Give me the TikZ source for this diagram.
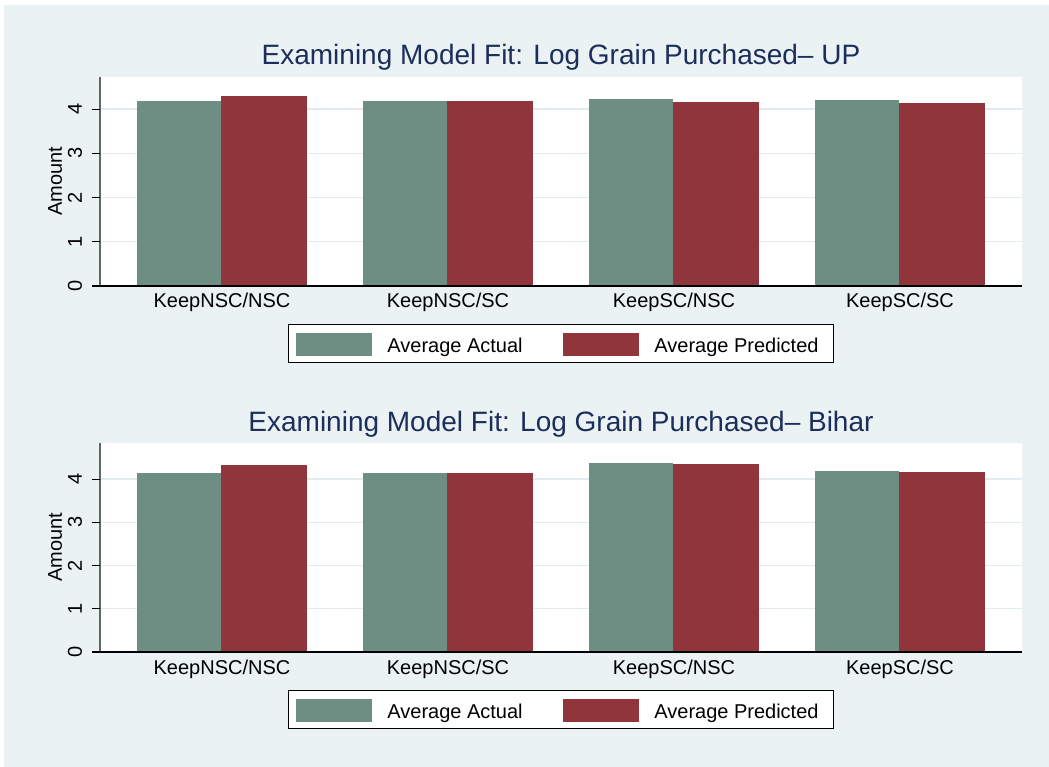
\documentclass[tikz,border=0pt]{standalone}
\usepackage{fontspec}
\setmainfont{Liberation Sans}
\usetikzlibrary{positioning}

\definecolor{bgblue}{RGB}{234,242,243}
\definecolor{gridblue}{RGB}{226,236,239}
\definecolor{actgreen}{RGB}{110,142,132}
\definecolor{predred}{RGB}{144,53,59}
\definecolor{titlenavy}{RGB}{28,46,92}
\definecolor{axisgrey}{RGB}{100,100,100}

\tikzset{
  plottitle/.style={font=\fontsize{28}{28}\selectfont, text=titlenavy, inner sep=0pt, anchor=base},
  ticklab/.style={font=\fontsize{20}{20}\selectfont, inner sep=0pt, rotate=90},
  catlab/.style={font=\fontsize{20}{20}\selectfont, inner sep=0pt, anchor=base},
  legtext/.style={font=\fontsize{20}{20}\selectfont, inner sep=0pt},
  swatch/.style={minimum width=76pt, minimum height=23pt, inner sep=0pt},
  gridline/.style={gridblue, line width=1.2pt},
}

% one bar panel: #1 id, #2 vertical shift, #3 pt per unit, #4 region, #5 group/actual/predicted
\newcommand{\fitpanel}[5]{%
  \begin{scope}[shift={(0,#2)}]
    \node[plottitle] (title#1) at (561,65) {Examining Model Fit: Log Grain Purchased-- #4};
    \fill[white] (100,77) rectangle (1022,286);
    \foreach \k in {1,...,4}
      \draw[gridline] (100,{286-\k*#3}) -- (1022,{286-\k*#3});
    \foreach \g/\a/\p in {#5} {
      \fill[actgreen] ({137+\g*226},286) rectangle ({221+\g*226},{286-\a*#3});
      \fill[predred] ({221+\g*226},286) rectangle ({307+\g*226},{286-\p*#3});
    }
    % axes and ticks
    \draw[axisgrey, line width=1.5pt] (100,77) -- (100,286);
    \draw[line width=1.3pt] (92,286) -- (1022,286);
    \foreach \k in {0,...,4} {
      \draw[line width=0.8pt] (92,{286-\k*#3}) -- (100,{286-\k*#3});
      \node[ticklab] (y#1\k) at (75,{286-\k*#3}) {\k};
    }
    \node[ticklab] (ylab#1) at (55,181.5) {Amount};
    \foreach \g/\c in {0/KeepNSC\slash NSC, 1/KeepNSC\slash SC, 2/KeepSC\slash NSC, 3/KeepSC\slash SC}
      \node[catlab] (cat#1\g) at ({222+\g*226},308) {\c};
    % legend
    \draw[fill=white, line width=0.8pt] (288,324) rectangle (833,362);
    \node[swatch, fill=actgreen] (swa#1) at (334,344.5) {};
    \node[swatch, fill=predred] (swp#1) at (601,344.5) {};
    \node[legtext, right=15pt of swa#1.east, anchor=base west, yshift=-7.5pt] (lega#1) {Average Actual};
    \node[legtext, right=15pt of swp#1.east, anchor=base west, yshift=-7.5pt] (legp#1) {Average Predicted};
  \end{scope}
}

\begin{document}
\begin{tikzpicture}[x=1pt, y=-1pt]
  \useasboundingbox (0,0) rectangle (1049,767);
  \fill[white] (0,0) rectangle (1049,767);
  \fill[bgblue] (4,5) rectangle (1049,767);

  \fitpanel{1}{0}{44.25}{UP}{0/4.19/4.29, 1/4.19/4.17, 2/4.22/4.16, 3/4.21/4.14}
  \fitpanel{2}{366}{43.25}{Bihar}{0/4.14/4.32, 1/4.14/4.14, 2/4.37/4.35, 3/4.18/4.16}
\end{tikzpicture}
\end{document}
